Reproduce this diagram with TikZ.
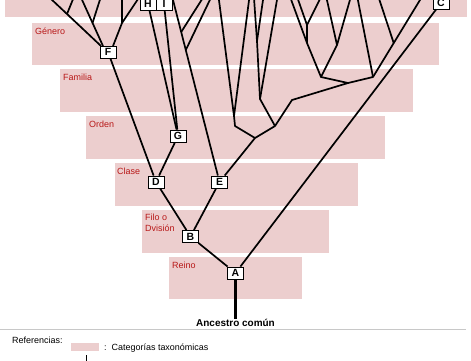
\documentclass[tikz,border=0pt]{standalone}
\usepackage{fontspec}
\setmainfont{Liberation Sans}
\definecolor{bandpink}{RGB}{236,206,206}
\definecolor{catred}{RGB}{184,24,24}
\definecolor{sepgray}{RGB}{200,200,200}
\begin{document}
\begin{tikzpicture}[x=1bp,y=-1bp,
  band/.style={fill=bandpink,draw=none},
  cat/.style={text=catred,font=\fontsize{9}{10}\selectfont,anchor=base west,inner sep=0},
  plain/.style={text=black,font=\fontsize{9}{10}\selectfont,anchor=base west,inner sep=0},
  letterbox/.style={draw=black,line width=0.9bp,fill=white,minimum width=16bp,minimum height=12bp,inner sep=0,font=\bfseries\fontsize{10.5}{11}\selectfont},
  branch/.style={line width=1.7bp,black,line join=round}
]
\useasboundingbox (0,0) rectangle (471,360);
% bands
\fill[band] (5,-5) rectangle (467,17);
\fill[band] (32,23) rectangle (439,65);
\fill[band] (60,69) rectangle (413,112);
\fill[band] (86,116) rectangle (385,159);
\fill[band] (115,163) rectangle (358,206);
\fill[band] (142,210) rectangle (329,253);
\fill[band] (169,257) rectangle (302,299);
% category labels
\node[cat] (lgen) at (35,34) {Género};
\node[cat] (lfam) at (63,80) {Familia};
\node[cat] (lord) at (89,127) {Orden};
\node[cat] (lcla) at (117,174) {Clase};
\node[cat] (lfil) at (145,220) {Filo o};
\node[cat] (ldiv) at (145,231) {Dvisión};
\node[cat] (lrei) at (172,268) {Reino};
% letter nodes
\node[letterbox] (A) at (235.5,273) {A};
\node[letterbox] (B) at (190.5,236.5) {B};
\node[letterbox] (C) at (441,3) {C};
\node[letterbox] (D) at (156,182) {D};
\node[letterbox] (E) at (219.5,182) {E};
\node[letterbox] (F) at (108,52) {F};
\node[letterbox] (G) at (178,136) {G};
\node[letterbox] (H) at (148,4) {H};
\node[letterbox] (I) at (164,4) {I};
% junction coordinates
\coordinate (tE) at (172.5,-2);
\coordinate (j1) at (181.2,32);  \coordinate (tj1) at (202.8,-2);
\coordinate (j2) at (185.8,50);  \coordinate (tj2) at (210.8,-2);
\coordinate (k) at (255,138);
\coordinate (m) at (235,126);
\coordinate (n) at (234,116);
\coordinate (tn1) at (218.7,-2); \coordinate (tn2) at (249.3,-2);
\coordinate (p) at (275,126);
\coordinate (q) at (260,99);
\coordinate (r) at (257,41);
\coordinate (tr1) at (254,-2); \coordinate (tr2) at (263.3,-2);
\coordinate (tq) at (277.3,-2);
\coordinate (s) at (292,100);
\coordinate (u) at (348,83);
\coordinate (v) at (321,77);
\coordinate (w) at (307,43);
\coordinate (tw) at (290.5,-2);
\coordinate (xx) at (307,25);
\coordinate (tx1) at (297.5,-2); \coordinate (tx2) at (320.5,-2);
\coordinate (yy) at (337,45);
\coordinate (ty1) at (326.5,-2); \coordinate (ty2) at (350.5,-2);
\coordinate (z) at (373,77);
\coordinate (tz1) at (357.5,-2); \coordinate (tz2) at (421.2,-2);
\coordinate (bb) at (393.7,43); \coordinate (tbb) at (378.8,-2);
\coordinate (fL) at (101,46); \coordinate (tf1) at (50,-2);
\coordinate (f1) at (67,14); \coordinate (tf1b) at (73.5,-2);
\coordinate (fM) at (103,46); \coordinate (tf2) at (81.2,-2);
\coordinate (f2) at (92.5,23); \coordinate (tf2b) at (100.5,-2);
\coordinate (fR) at (113,46);
\coordinate (f3) at (122,23); \coordinate (tf3) at (122,-2); \coordinate (tf3b) at (138.7,-2);
% main tree
\draw[branch] (A) -- (B);
\draw[branch] (A) -- (C);
\draw[branch] (B) -- (D);
\draw[branch] (B) -- (E);
\draw[branch] (D) -- (F);
\draw[branch] (D) -- (G);
\draw[branch] (G) -- (H);
\draw[branch] (G) -- (I);
% E branches
\draw[branch] (E) -- (tE);
\draw[branch] (j1) -- (tj1);
\draw[branch] (j2) -- (tj2);
\draw[branch] (E) -- (k) -- (m) -- (n) -- (tn1);
\draw[branch] (n) -- (tn2);
\draw[branch] (k) -- (p) -- (q) -- (r) -- (tr1);
\draw[branch] (r) -- (tr2);
\draw[branch] (q) -- (tq);
\draw[branch] (p) -- (s) -- (u) -- (v) -- (w) -- (tw);
\draw[branch] (w) -- (xx) -- (tx1);
\draw[branch] (xx) -- (tx2);
\draw[branch] (v) -- (yy) -- (ty1);
\draw[branch] (yy) -- (ty2);
\draw[branch] (u) -- (z) -- (tz1);
\draw[branch] (z) -- (tz2);
\draw[branch] (bb) -- (tbb);
% F branches
\draw[branch] (fL) -- (tf1);
\draw[branch] (f1) -- (tf1b);
\draw[branch] (fM) -- (tf2);
\draw[branch] (f2) -- (tf2b);
\draw[branch] (fR) -- (f3) -- (tf3);
\draw[branch] (f3) -- (tf3b);
% common ancestor
\node[font=\bfseries\fontsize{10}{11}\selectfont,anchor=base,inner sep=0] (anc) at (235.5,326) {Ancestro común};
\draw[line width=2.6bp] (A) -- (anc);
% separator and legend
\coordinate (sepL) at (0,329); \coordinate (sepR) at (466,329);
\draw[sepgray,line width=1bp] (sepL) -- (sepR);
\node[plain] (ref) at (12,343) {Referencias:};
\fill[band] (71,343) rectangle (99,351);
\node[plain] (cattxt) at (104,350.5) {:\ \ Categorías taxonómicas};
\coordinate (lg1) at (86,355); \coordinate (lg2) at (86,362);
\draw[line width=1bp] (lg1) -- (lg2);
\end{tikzpicture}
\end{document}
